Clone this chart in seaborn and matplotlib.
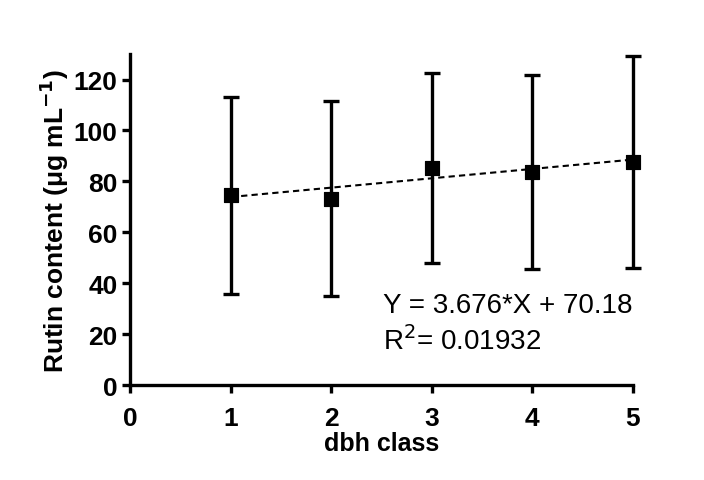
import numpy as np
import pandas as pd
import matplotlib
matplotlib.use('Agg')
import matplotlib.pyplot as plt
import seaborn as sns

# Data
dbh_class = [1, 2, 3, 4, 5]
rutin_mean = [74.5, 73.2, 85.2, 83.8, 87.7]
rutin_sd = [38.7, 38.2, 37.2, 38.1, 41.7]

slope = 3.676
intercept = 70.18
fit_x = [1, 5]

sns.set_style('ticks')
plt.rcParams['font.family'] = ['Liberation Sans', 'DejaVu Sans']
plt.rcParams['text.color'] = 'black'
plt.rcParams['axes.labelcolor'] = 'black'
plt.rcParams['xtick.color'] = 'black'
plt.rcParams['ytick.color'] = 'black'
plt.rcParams['axes.edgecolor'] = 'black'

df = pd.DataFrame({'dbh': dbh_class, 'rutin': rutin_mean, 'sd': rutin_sd})
fit_df = pd.DataFrame({'dbh': fit_x, 'rutin': [slope * x + intercept for x in fit_x]})

fig = plt.figure(figsize=(7.04, 4.81), dpi=100)
ax = fig.add_axes([0.185, 0.1975, 0.714, 0.688])

# error bars (mean +/- SD)
ax.errorbar(df['dbh'], df['rutin'], yerr=df['sd'], fmt='none', ecolor='black',
            elinewidth=2.4, capsize=6, capthick=2.4, zorder=2)
# linear fit
sns.lineplot(data=fit_df, x='dbh', y='rutin', ax=ax, color='black',
             linestyle=(0, (3, 2)), linewidth=1.5, zorder=3)
# means
sns.scatterplot(data=df, x='dbh', y='rutin', ax=ax, marker='s', s=110,
                color='black', edgecolor='black', zorder=4)

ax.set_xlim(0, 5)
ax.set_ylim(0, 130)
ax.set_xticks([0, 1, 2, 3, 4, 5])
ax.set_yticks([0, 20, 40, 60, 80, 100, 120])
for coll in ax.collections + ax.lines:
    coll.set_clip_on(False)

sns.despine(ax=ax)
for side in ['left', 'bottom']:
    ax.spines[side].set_linewidth(2.4)
ax.tick_params(axis='both', width=2.4, length=6, labelsize=19, direction='out', pad=3)
ax.tick_params(axis='x', pad=9)
for lbl in ax.get_xticklabels() + ax.get_yticklabels():
    lbl.set_fontweight('bold')

ax.set_xlabel('dbh class', fontsize=18, fontweight='bold', labelpad=1)
ax.set_ylabel('Rutin content (μg mL$^{\\mathbf{-1}}$)', fontsize=19, fontweight='bold', labelpad=2)

ax.text(2.51, 28.6, 'Y = 3.676*X + 70.18', fontsize=20, ha='left', va='baseline')
ax.text(2.51, 14.1, 'R$^{2}$= 0.01932', fontsize=20, ha='left', va='baseline')

fig.savefig('out.png', dpi=100)
